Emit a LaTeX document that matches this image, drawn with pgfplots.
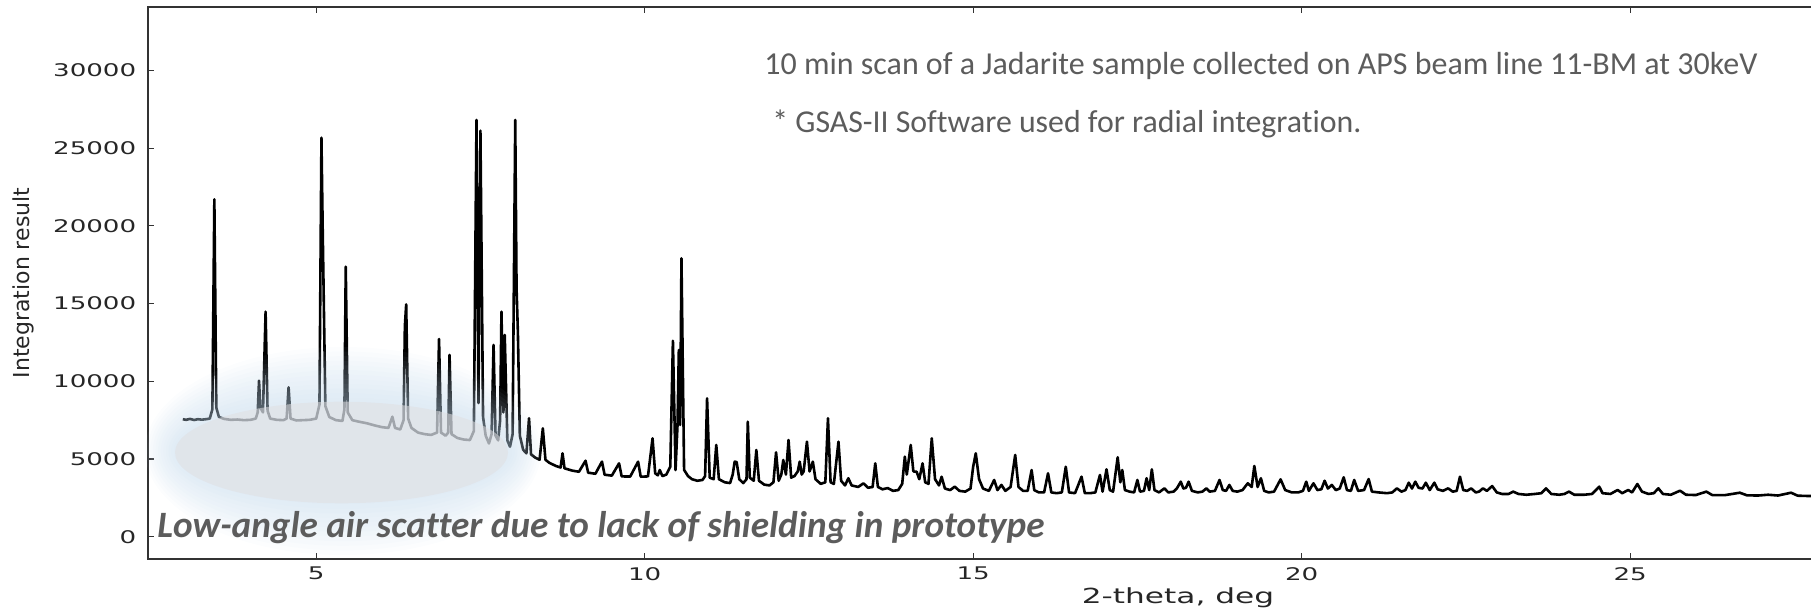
\documentclass[border=0pt]{standalone}
\usepackage{pgfplots}
\pgfplotsset{compat=1.18}
\usepackage{fontspec}
\setmainfont{DejaVu Sans}
\newfontfamily\carlito[Ligatures=NoCommon]{Carlito}
\newcommand\sx[1]{\scalebox{1.5}[1]{#1}}
\definecolor{txtgray}{HTML}{5C5C5C}
\definecolor{halo}{RGB}{190,214,234}
\definecolor{ellgray}{RGB}{224,224,227}
\begin{document}
\begin{tikzpicture}
\useasboundingbox (0,0) rectangle (905.5pt,305pt);
\begin{axis}[
  at={(74pt,25.35pt)}, anchor=south west,
  scale only axis, width=839.6pt, height=276.15pt,
  xmin=2.44, xmax=28.0, ymin=-1454, ymax=34086,
  xtick={5,10,15,20,25}, xticklabels={\sx{5},\sx{10},\sx{15},\sx{20},\sx{25}},
  ytick={0,5000,10000,15000,20000,25000,30000},
  yticklabels={\sx{0},\sx{5000},\sx{10000},\sx{15000},\sx{20000},\sx{25000},\sx{30000}},
  tick align=inside, major tick length=3pt,
  minor tick num=0,
  tick style={black!80, line width=0.6pt},
  axis line style={black!80, line width=0.8pt},
  ticklabel style={font=\fontsize{8.7}{10}\selectfont, text=black!85},
  xticklabel style={anchor=north, inner sep=0pt, yshift=-3.7pt},
  yticklabel style={anchor=east, inner sep=0pt, xshift=-5.7pt},
]
\addplot[black, line width=1.3pt, line join=round] table {
x y
2.97 7560
3.02 7520
3.08 7580
3.14 7510
3.20 7560
3.26 7530
3.32 7560
3.38 7600
3.42 8200
3.45 21710
3.48 8300
3.52 7700
3.60 7580
3.70 7520
3.80 7540
3.90 7500
4.00 7520
4.08 7600
4.11 8000
4.13 10040
4.15 8300
4.19 8000
4.23 14480
4.26 8100
4.30 7600
4.40 7520
4.50 7500
4.55 7600
4.58 9610
4.61 7600
4.70 7480
4.80 7500
4.90 7520
5.00 7600
5.05 8500
5.08 25680
5.10 19560
5.14 8400
5.20 7700
5.30 7500
5.40 7450
5.43 8200
5.45 17375
5.48 8000
5.55 7500
5.65 7400
5.77 7300
5.90 7150
6.00 7050
6.10 7000
6.16 7720
6.20 7000
6.28 6900
6.33 7500
6.35 13560
6.37 14950
6.40 7600
6.45 7000
6.55 6700
6.65 6600
6.75 6550
6.84 6700
6.87 12720
6.90 6700
6.97 6500
7.01 6700
7.03 11700
7.06 6600
7.15 6350
7.25 6250
7.34 6220
7.40 6800
7.44 26815
7.47 8600
7.50 26130
7.54 7700
7.58 6500
7.63 6000
7.67 6600
7.70 12340
7.73 6500
7.77 6200
7.80 7500
7.82 14480
7.85 8000
7.87 12980
7.91 6200
7.95 5790
7.99 6600
8.03 26815
8.05 16000
8.07 13190
8.10 6500
8.15 5600
8.20 5365
8.24 7620
8.27 5300
8.33 5100
8.40 4950
8.45 6975
8.49 4950
8.55 4750
8.65 4550
8.72 4450
8.75 5365
8.78 4400
8.90 4250
9.00 4180
9.10 4890
9.14 4120
9.25 4050
9.35 4830
9.39 3990
9.50 3930
9.61 4720
9.65 3880
9.78 3870
9.90 4830
9.94 3860
10.05 3880
10.12 6330
10.16 4080
10.20 3950
10.23 4290
10.27 3900
10.33 4000
10.39 4500
10.43 12610
10.47 4290
10.50 7190
10.52 12015
10.54 7190
10.56 17915
10.60 4300
10.66 3900
10.72 3700
10.80 3600
10.88 3650
10.92 3900
10.95 8900
10.99 3800
11.05 3700
11.09 5900
11.13 3700
11.22 3500
11.30 3450
11.34 4000
11.37 4830
11.40 4800
11.44 3700
11.50 3450
11.55 3700
11.57 7400
11.60 3800
11.66 3600
11.70 5580
11.74 3600
11.82 3350
11.90 3300
11.96 3500
12.00 5430
12.04 3600
12.08 4000
12.11 4935
12.15 4000
12.19 6220
12.23 3800
12.28 3900
12.33 4200
12.36 4830
12.39 4000
12.42 4200
12.47 6115
12.51 4200
12.56 4830
12.60 3700
12.68 3400
12.75 3500
12.79 7620
12.83 3500
12.88 3400
12.95 6115
12.99 3600
13.05 3300
13.10 3760
13.15 3300
13.25 3200
13.33 3435
13.40 3150
13.47 3200
13.51 4720
13.55 3200
13.62 3050
13.70 3130
13.78 2950
13.86 3000
13.92 3400
13.96 5150
13.99 4000
14.05 5900
14.09 4200
14.14 4180
14.18 3700
14.23 4720
14.27 3500
14.32 3400
14.37 6330
14.42 3700
14.48 3300
14.52 3860
14.57 3100
14.65 3000
14.72 3220
14.79 2950
14.88 2900
14.96 3100
15.00 4500
15.04 5365
15.09 3700
15.15 3100
15.24 2950
15.32 3650
15.37 3000
15.43 3330
15.49 2950
15.57 3200
15.64 5260
15.69 3200
15.76 2950
15.83 2950
15.89 4290
15.93 3000
16.00 2850
16.08 2850
16.14 4080
16.19 2850
16.27 2800
16.35 2850
16.41 4500
16.46 2850
16.55 2800
16.65 3860
16.70 2800
16.78 2800
16.86 2850
16.93 3970
16.97 2900
17.03 4335
17.08 3000
17.13 2900
17.20 5110
17.24 3500
17.27 4290
17.31 3000
17.38 2900
17.45 2850
17.50 3650
17.54 2900
17.60 2950
17.64 3760
17.68 3000
17.72 4335
17.76 3000
17.83 2850
17.91 3110
17.97 2850
18.05 2900
18.10 3100
18.16 3540
18.20 3100
18.24 3150
18.28 3540
18.33 2950
18.42 2850
18.49 2900
18.55 3110
18.60 2900
18.68 2950
18.75 3650
18.80 3000
18.85 2950
18.90 3330
18.95 2950
19.02 2900
19.10 3000
19.18 3435
19.24 3200
19.28 4550
19.33 3200
19.38 3760
19.43 2950
19.50 2850
19.58 2900
19.68 3690
19.75 3000
19.85 2850
19.95 2850
20.02 2950
20.07 3540
20.11 2950
20.18 3435
20.24 3000
20.30 3050
20.35 3600
20.40 3100
20.46 3330
20.52 3000
20.58 3100
20.64 3820
20.69 3000
20.75 2950
20.80 3650
20.86 2950
20.95 3000
21.02 3710
21.07 2900
21.17 2850
21.30 2800
21.38 2850
21.45 3110
21.52 2900
21.58 3000
21.63 3475
21.68 3100
21.73 3540
21.78 3150
21.84 3100
21.89 3475
21.95 3000
22.02 3475
22.07 3050
22.15 2950
22.23 3110
22.30 2900
22.36 2950
22.41 3860
22.46 3000
22.52 2950
22.58 3110
22.65 2850
22.70 2900
22.76 3110
22.82 2950
22.90 3260
22.97 2850
23.05 2750
23.15 2750
23.22 2900
23.30 2750
23.42 2700
23.55 2750
23.65 2800
23.72 3110
23.80 2750
23.92 2700
24.00 2750
24.07 2900
24.15 2700
24.30 2700
24.42 2750
24.53 3220
24.58 2800
24.70 2750
24.81 3005
24.88 2800
24.97 3005
25.03 2850
25.11 3390
25.18 2900
25.28 2750
25.36 2800
25.43 3110
25.50 2750
25.62 2700
25.76 2960
25.85 2700
26.00 2680
26.16 2900
26.25 2680
26.45 2680
26.67 2830
26.78 2660
26.95 2650
27.10 2700
27.25 2650
27.45 2830
27.55 2640
27.70 2620
27.85 2620
28.00 2620
};
\end{axis}
% glow and ellipse over the low-angle region
\foreach \i in {0,...,11}{
  \pgfmathsetmacro\rx{99-1.3*\i}
  \pgfmathsetmacro\ry{52-2.3*\i}
  \fill[halo, opacity=0.05] (171.5pt,79.5pt) ellipse [x radius=\rx pt, y radius=\ry pt];
}
\fill[ellgray, opacity=0.55] (170.75pt,78.75pt) ellipse [x radius=83.25pt, y radius=25.4pt];
% annotations
\node[anchor=base west, inner sep=0pt, text=txtgray] at (382pt,267.5pt)
  {\resizebox{496.5pt}{!}{\carlito 10 min scan of a Jadarite sample collected on APS beam line 11-BM at 30keV}};
\node[anchor=base west, inner sep=0pt, text=txtgray] at (386pt,238.5pt)
  {\resizebox{294.5pt}{!}{\carlito * GSAS-II Software used for radial integration.}};
\node[anchor=base west, inner sep=0pt, text=txtgray] at (78.5pt,36pt)
  {\resizebox{443.5pt}{!}{\carlito\bfseries\itshape Low-angle air scatter due to lack of shielding in prototype}};
% axis labels
\node[font=\fontsize{10.4}{12}\selectfont, text=black!85] at (589pt,6pt) {\sx{2-theta, deg}};
\node[rotate=90, font=\fontsize{11}{13}\selectfont, text=black!85] at (11.5pt,163.5pt) {Integration result};
\end{tikzpicture}
\end{document}
